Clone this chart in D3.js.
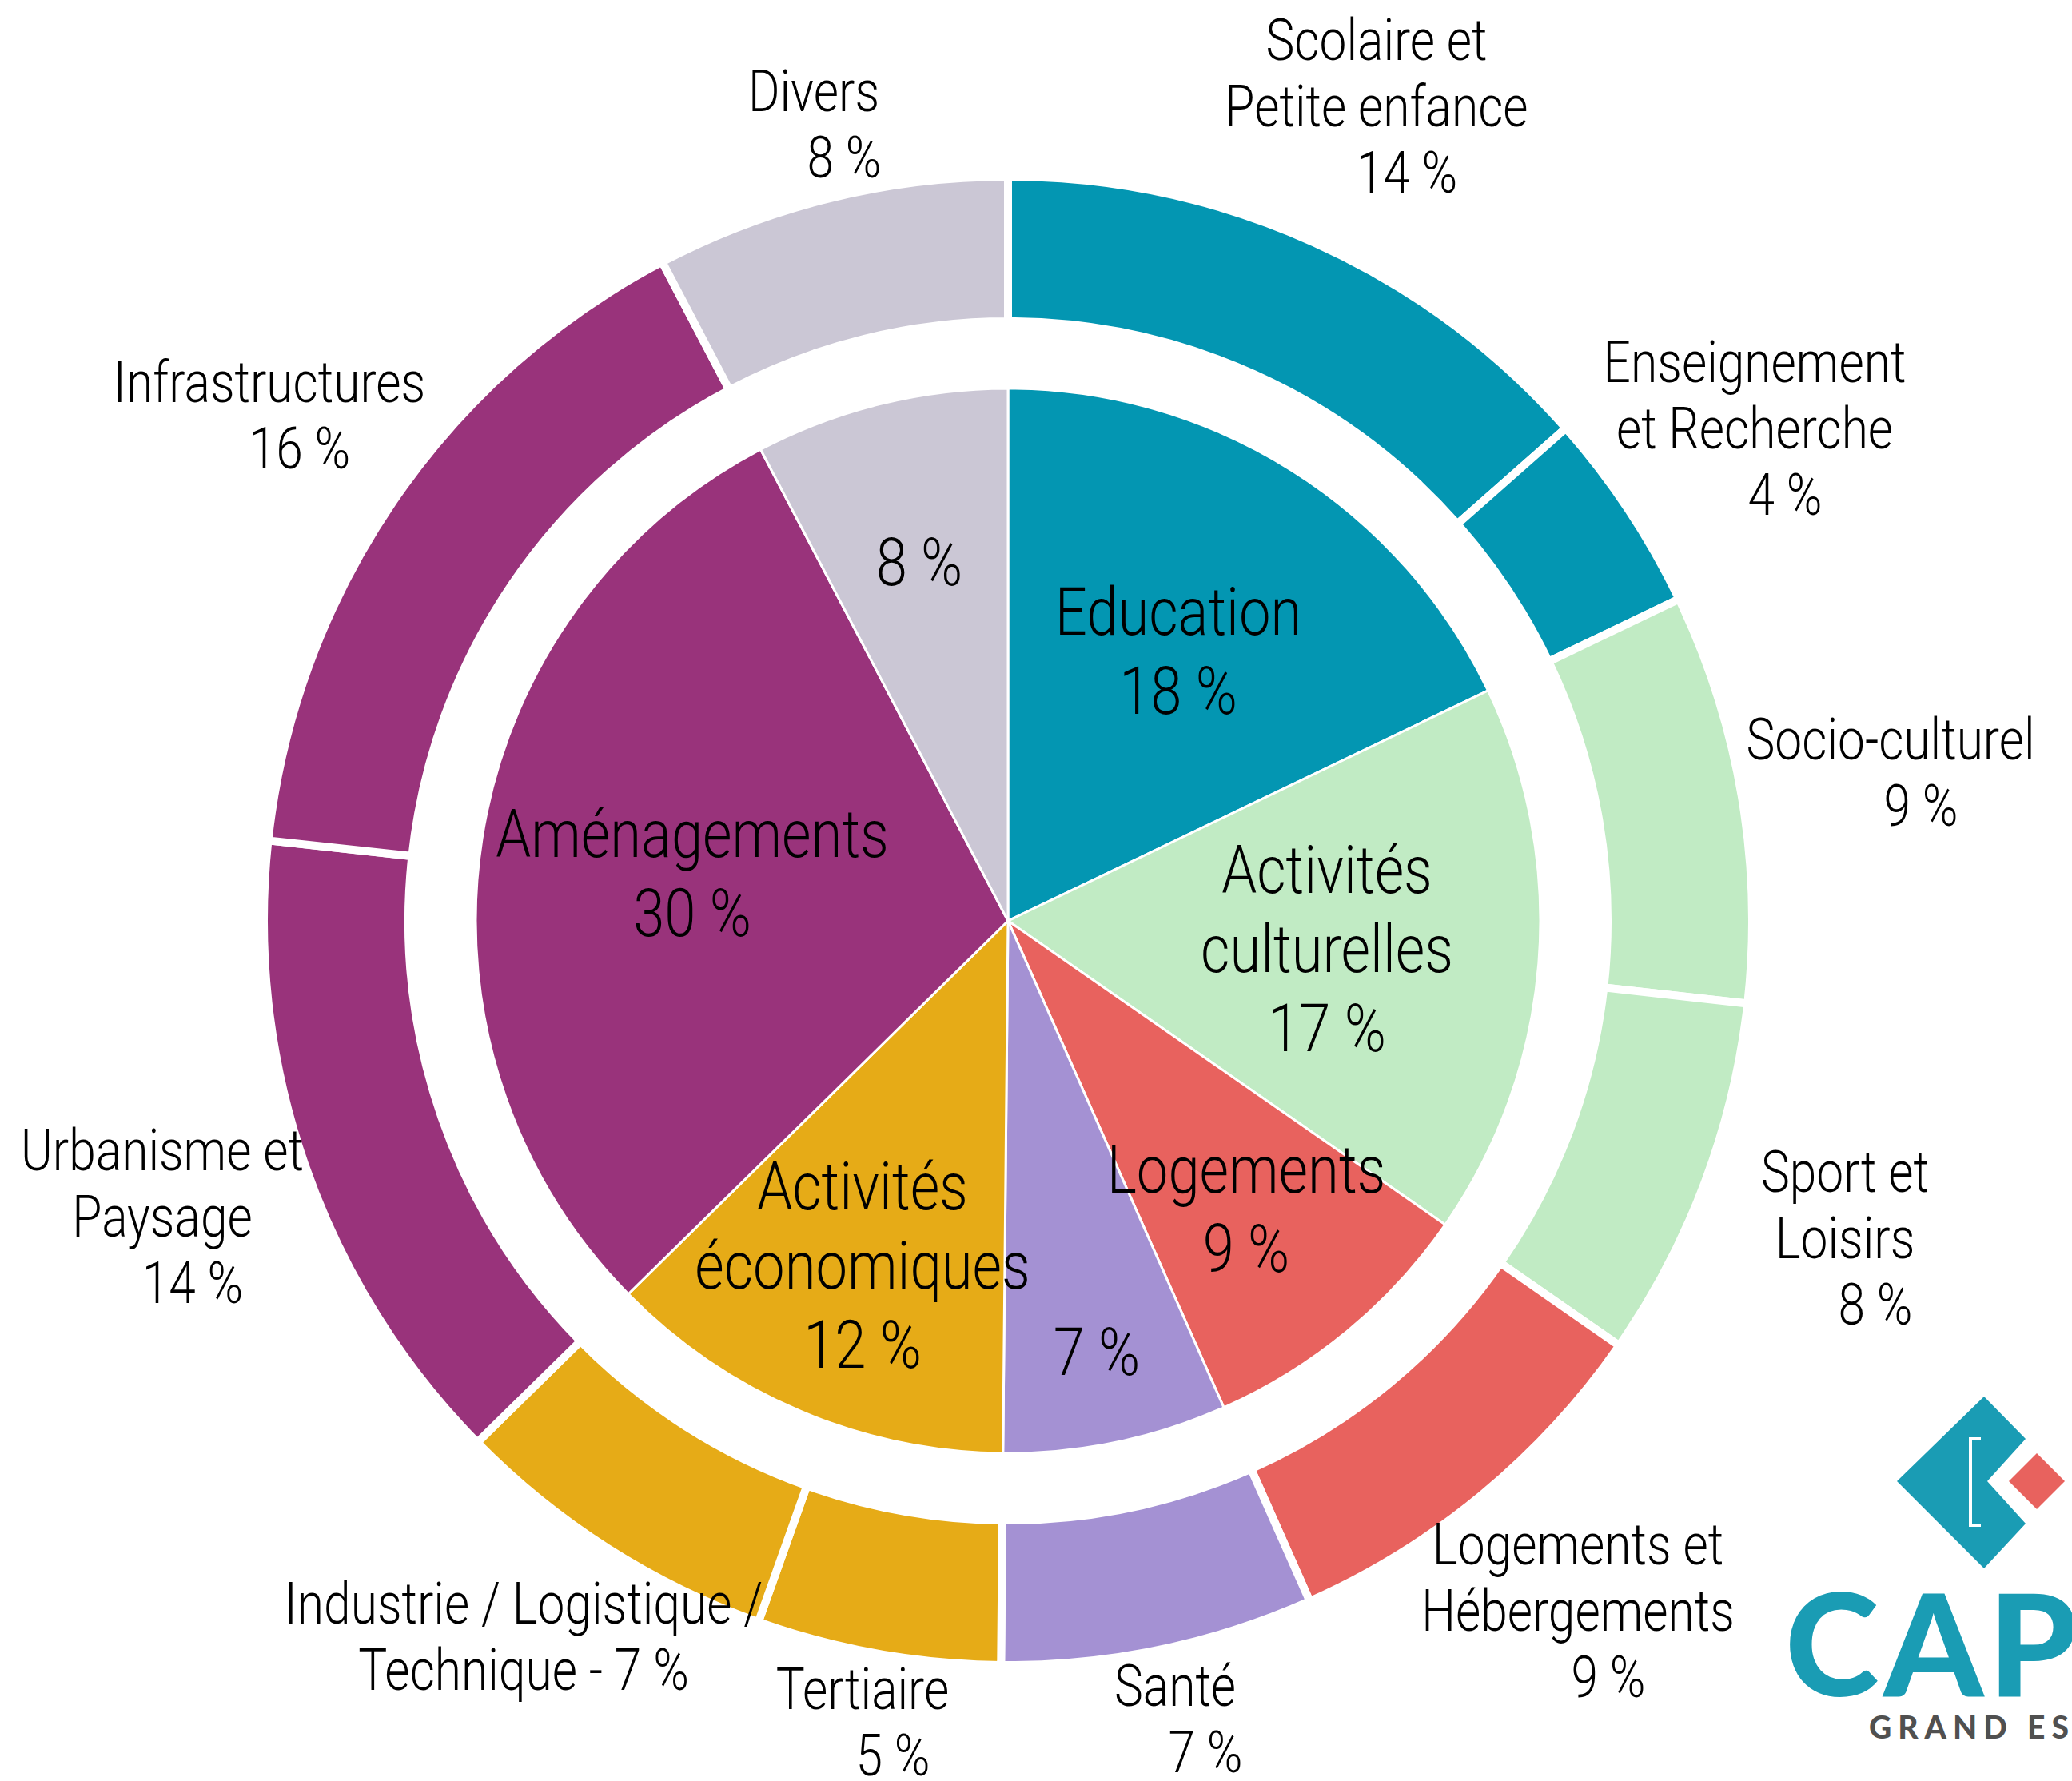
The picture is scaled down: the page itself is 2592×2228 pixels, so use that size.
<!DOCTYPE html>
<html>
<head>
<meta charset="utf-8">
<script src="https://d3js.org/d3.v7.min.js"></script>
<style>
  body { margin: 0; background: #fff; }
  text.lbl { font-family: Roboto, "DejaVu Sans Condensed", sans-serif; font-weight: 300; fill: #000; }
</style>
</head>
<body>
<script>
// inner ring (main categories)
var innerNames = ["Education", "Activités culturelles", "Logements", "Santé", "Activités économiques", "Aménagements", "Divers"];
var innerValues = [17.9, 16.8, 8.7, 6.8, 12.5, 29.7, 7.7];
var innerLabels = [["Education", "18 %"], ["Activités", "culturelles", "17 %"], ["Logements", "9 %"], ["7 %"],
                   ["Activités", "économiques", "12 %"], ["Aménagements", "30 %"], ["8 %"]];

// outer ring (sub categories)
var outerGroups = ["Education", "Education", "Activités culturelles", "Activités culturelles", "Logements", "Santé",
                   "Activités économiques", "Activités économiques", "Aménagements", "Aménagements", "Divers"];
var outerValues = [13.5, 4.4, 8.9, 7.9, 8.7, 6.8, 5.3, 7.2, 14.1, 15.6, 7.7];
var outerLabels = [["Scolaire et", "Petite enfance", "14 %"], ["Enseignement", "et Recherche", "4 %"], ["Socio-culturel", "9 %"],
                   ["Sport et", "Loisirs", "8 %"], ["Logements et", "Hébergements", "9 %"], ["Santé", "7 %"], ["Tertiaire", "5 %"],
                   ["Industrie / Logistique /", "Technique - 7 %"], ["Urbanisme et", "Paysage", "14 %"], ["Infrastructures", "16 %"], ["Divers", "8 %"]];

var colors = {
  "Education": "#0396b2",
  "Activités culturelles": "#c1ebc4",
  "Logements": "#e8625e",
  "Santé": "#a491d3",
  "Activités économiques": "#e6ab17",
  "Aménagements": "#99337b",
  "Divers": "#cbc7d5"
};

// label placement, offsets from the centre
var innerPos = [[213, -337], [399, 35], [298, 361], [111, 539], [-182, 431], [-395, -59], [-111, -449]];
var outerPos = [[461, -1019], [934, -616], [1104, -185], [1047, 397], [713, 863], [209, 999], [-182, 1003],
                [-606, 896], [-1058, 370], [-924, -632], [-243, -996]];

var width = 2592, height = 2228;
var cx = 1261, cy = 1152;
var squeeze = 0.84;   // condensed look

var svg = d3.select("body").append("svg")
    .attr("width", width)
    .attr("height", height);

var g = svg.append("g").attr("transform", "translate(" + cx + "," + cy + ")");

var pie = d3.pie().sort(null).value(function(d) { return d; });

var innerArc = d3.arc().innerRadius(0).outerRadius(666);
var outerArc = d3.arc().innerRadius(750).outerRadius(931);

g.selectAll("path.inner")
    .data(pie(innerValues))
    .enter().append("path")
    .attr("class", "inner")
    .attr("d", innerArc)
    .attr("fill", function(d, i) { return colors[innerNames[i]]; })
    .attr("stroke", "#fff")
    .attr("stroke-width", 3);

g.selectAll("path.outer")
    .data(pie(outerValues))
    .enter().append("path")
    .attr("class", "outer")
    .attr("d", outerArc)
    .attr("fill", function(d, i) { return colors[outerGroups[i]]; })
    .attr("stroke", "#fff")
    .attr("stroke-width", 10);

function drawLabels(labels, pos, size, lh, shift) {
  labels.forEach(function(lines, i) {
    var t = g.append("text")
        .attr("class", "lbl")
        .attr("text-anchor", "middle")
        .attr("transform", "translate(" + pos[i][0] + "," + pos[i][1] + ") scale(" + squeeze + ",1)")
        .style("font-size", size + "px");
    var y0 = -(lines.length - 1) * lh / 2;
    lines.forEach(function(line, j) {
      var isPct = /^\d+ %$/.test(line) && lines.length > 1;
      t.append("tspan")
          .attr("x", isPct ? shift / squeeze : 0)
          .attr("y", y0 + j * lh)
          .attr("dominant-baseline", "central")
          .text(line);
    });
  });
}

drawLabels(innerLabels, innerPos, 84, 99, 0);
drawLabels(outerLabels, outerPos, 72, 83, 38);

// logo, bottom right (cut by the page edge)
var logo = svg.append("g");
logo.append("path")
    .attr("d", "M2373,1853 L2482,1747 L2534,1800 L2486,1853 L2534,1906 L2482,1962 Z")
    .attr("fill", "#1a9cb4");
logo.append("path")
    .attr("d", "M2478,1800 L2465,1800 L2465,1908 L2478,1908")
    .attr("fill", "none")
    .attr("stroke", "#fff")
    .attr("stroke-width", 4);
logo.append("path")
    .attr("d", "M2548,1818 L2583,1853 L2548,1888 L2513,1853 Z")
    .attr("fill", "#e8625e");
logo.append("text")
    .attr("x", 2233)
    .attr("y", 2122)
    .style("font-family", "Lato, 'Open Sans', sans-serif")
    .style("font-weight", "900")
    .style("font-size", "178px")
    .style("letter-spacing", "6px")
    .style("fill", "#1a9cb4")
    .text("CAP");
logo.append("text")
    .attr("x", 2338)
    .attr("y", 2175)
    .style("font-family", "Lato, 'Open Sans', sans-serif")
    .style("font-weight", "900")
    .style("font-size", "39px")
    .style("letter-spacing", "8px")
    .style("fill", "#505050")
    .text("GRAND EST");
</script>
</body>
</html>
